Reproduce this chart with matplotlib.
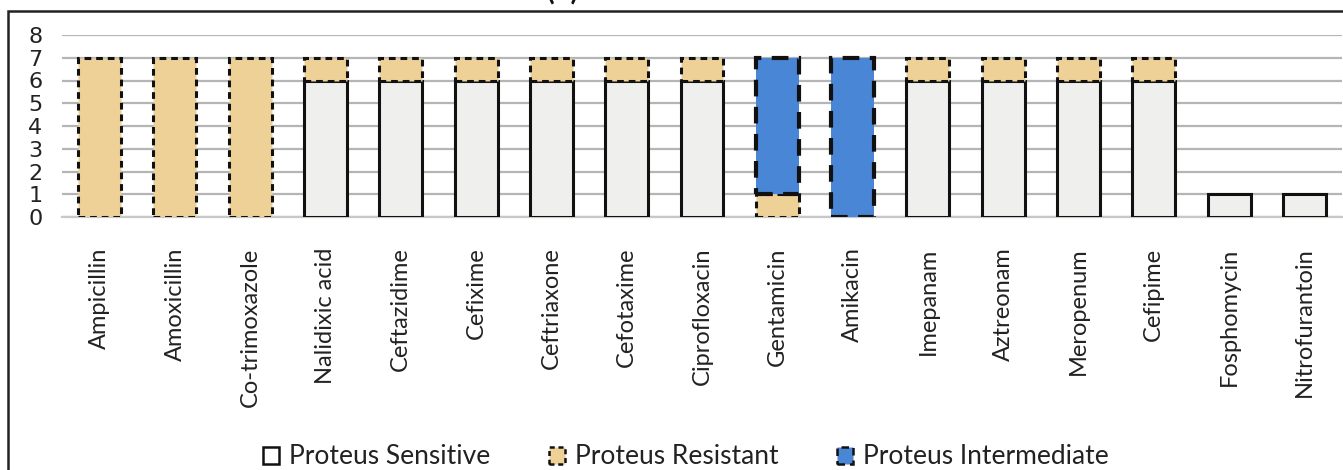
import matplotlib
matplotlib.use("Agg")
import matplotlib.pyplot as plt
from matplotlib.patches import Rectangle, Patch
import numpy as np

antibiotics = ["Ampicillin", "Amoxicillin", "Co-trimoxazole", "Nalidixic acid",
               "Ceftazidime", "Cefixime", "Ceftriaxone", "Cefotaxime",
               "Ciprofloxacin", "Gentamicin", "Amikacin", "Imepanam",
               "Aztreonam", "Meropenum", "Cefipime", "Fosphomycin",
               "Nitrofurantoin"]
sensitive = [0, 0, 0, 6, 6, 6, 6, 6, 6, 0, 0, 6, 6, 6, 6, 1, 1]
resistant = [7, 7, 7, 1, 1, 1, 1, 1, 1, 1, 0, 1, 1, 1, 1, 0, 0]
intermediate = [0, 0, 0, 0, 0, 0, 0, 0, 0, 6, 7, 0, 0, 0, 0, 0, 0]
series_names = ["Proteus Sensitive", "Proteus Resistant", "Proteus Intermediate"]
y_ticks = [0, 1, 2, 3, 4, 5, 6, 7, 8]

plt.rcParams["font.family"] = ["Lato", "DejaVu Sans"]

W, H = 1343, 470
fig = plt.figure(figsize=(W / 100, H / 100), dpi=100)
ax = fig.add_axes([62 / W, 1 - 217 / H, (1342 - 62) / W, (217 - 35) / H])

x = np.arange(len(antibiotics))
bw = 0.57
sens_col = "#efefed"
res_col = "#eed196"
int_col = "#4a86d6"

s = np.array(sensitive, dtype=float)
r = np.array(resistant, dtype=float)
i = np.array(intermediate, dtype=float)


def stacked(values, bottom, **style):
    # skip empty segments so they leave no stray outline
    keep = values > 0
    ax.bar(x[keep], values[keep], bw, bottom=bottom[keep], zorder=3, **style)


stacked(s, np.zeros_like(s), color=sens_col, edgecolor="#111111", linewidth=2.2)
stacked(r, s, color=res_col, edgecolor="#111111", linewidth=2.2,
        linestyle=(0, (2.2, 1.6)))
stacked(i, s + r, color=int_col, edgecolor="#111111", linewidth=3,
        linestyle=(0, (4, 2.5)))

ax.set_xlim(-0.5, len(antibiotics) - 0.5)
ax.set_ylim(0, 8)
ax.set_yticks(y_ticks)
ax.set_yticklabels([str(t) for t in y_ticks], fontsize=16,
                   family=["Verdana", "DejaVu Sans"], color="#222222")
ax.set_xticks(x)
ax.set_xticklabels(antibiotics, rotation=90, fontsize=17, color="#222222")
ax.tick_params(axis="both", length=0)
ax.tick_params(axis="x", pad=22)
ax.tick_params(axis="y", pad=14)
ax.grid(axis="y", color="#b5b5b5", linewidth=1.6, zorder=0)
for sp in ["left", "right", "top"]:
    ax.spines[sp].set_visible(False)
ax.spines["bottom"].set_color("#c8c8c8")
ax.spines["bottom"].set_linewidth(1.6)

handles = [
    Patch(facecolor="white", edgecolor="#111111", linewidth=1.8),
    Patch(facecolor=res_col, edgecolor="#111111", linewidth=1.8, linestyle=(0, (2, 1.5))),
    Patch(facecolor=int_col, edgecolor="#111111", linewidth=1.8, linestyle=(0, (3, 2))),
]
fig.legend(handles, series_names, loc="center", bbox_to_anchor=(686 / W, 1 - 457 / H),
           ncol=3, frameon=False, fontsize=19, handlelength=0.6, handleheight=0.6,
           handletextpad=0.4, columnspacing=2.2, labelcolor="#222222")

# outer chart border
fig.patches.append(Rectangle((8 / W, -0.05), 1.1, 1 - 11 / H + 0.05,
                             transform=fig.transFigure, fill=False,
                             edgecolor="#222222", linewidth=1.8))
fig.text(563 / W, 1 - 5 / H, "(b)", ha="center", va="bottom", fontsize=20,
         fontweight="bold", color="#111111")

fig.savefig("out.png", dpi=100)
